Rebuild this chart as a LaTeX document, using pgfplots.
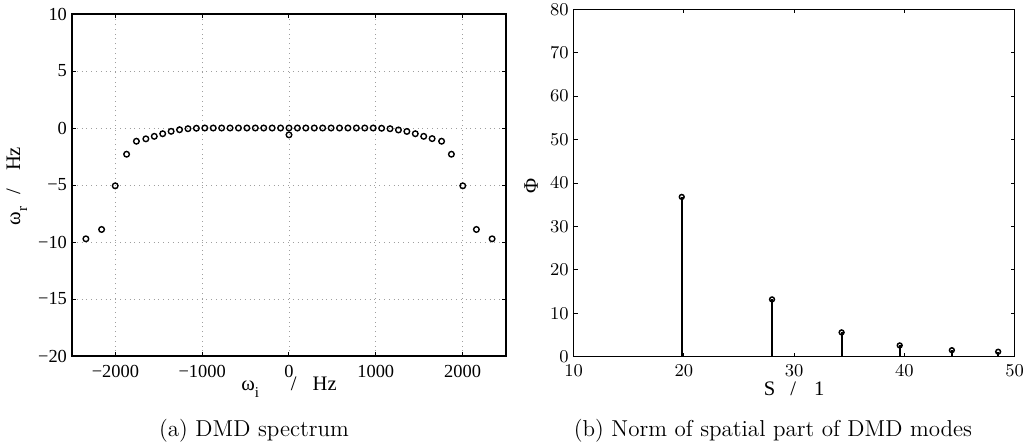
\documentclass[border=0pt]{standalone}
\usepackage{fontspec}
\newfontfamily\tnr{Liberation Serif}
\usepackage{pgfplots}
\pgfplotsset{compat=1.18}
\newcommand{\lsub}[1]{\raisebox{-3.5pt}{\fontsize{7.5}{8}\selectfont #1}}
\begin{document}
\begin{tikzpicture}
\path[use as bounding box] (0,0) rectangle (513.5pt,-223pt);
\begin{axis}[
  at={(36pt,-178pt)}, anchor=south west,
  scale only axis, width=217pt, height=171pt,
  xmin=-2500, xmax=2500, ymin=-20, ymax=10,
  xtick={-2000,-1000,0,1000,2000},
  xticklabels={−2000,−1000,0,1000,2000},
  ytick={-20,-15,-10,-5,0,5,10},
  yticklabels={−20,−15,−10,−5,0,5,10},
  tick pos=both, tick align=inside, major tick length=2pt,
  every tick/.style={black, line width=0.5pt},
  axis line style={line width=0.7pt},
  grid=major, grid style={dotted, gray!75, line width=0.45pt},
  ticklabel style={font=\tnr\fontsize{9.2}{10}\selectfont},
  xticklabel style={anchor=base, yshift=-10.8pt},
  yticklabel style={anchor=east, xshift=1pt},
  xlabel={ω\lsub{i}\hspace{16pt}/\hspace{8pt}Hz},
  ylabel={ω\lsub{r}\hspace{6pt}/\hspace{9pt}Hz},
  label style={font=\tnr\fontsize{10.3}{12}\selectfont},
  xlabel style={at={(axis description cs:0.5,0)}, anchor=base, yshift=-17pt},
  ylabel style={at={(axis description cs:-0.1198,0.497)}, anchor=base},
]
\addplot[only marks, mark=o, mark size=1.4pt, mark options={line width=0.7pt}, black] coordinates {
(-2340,-9.72)(-2159,-8.9)(-2002,-5.07)(-1871,-2.3)(-1758,-1.16)(-1649,-0.95)(-1552,-0.73)(-1455,-0.5)(-1358,-0.29)(-1261,-0.15)(-1164,-0.06)(-1067,-0.02)(-970,0)(-873,0)(-776,0)(-679,0)(-582,0)(-485,0)(-388,0)(-291,0)(-194,0)(-97,0)(0,0)(0,-0.6)
(97,0)(194,0)(291,0)(388,0)(485,0)(582,0)(679,0)(776,0)(873,0)(970,0)(1067,-0.02)(1164,-0.06)(1261,-0.17)(1358,-0.3)(1455,-0.5)(1552,-0.73)(1649,-0.93)(1758,-1.16)(1871,-2.3)(2002,-5.07)(2159,-8.9)(2340,-9.72)
};
\end{axis}
\begin{axis}[
  at={(286.85pt,-178.35pt)}, anchor=south west,
  scale only axis, width=220.5pt, height=173.7pt,
  xmin=10, xmax=50, ymin=0, ymax=80,
  xtick={10,20,30,40,50},
  ytick={0,10,20,30,40,50,60,70,80},
  tick pos=both, tick align=inside, major tick length=2pt,
  every tick/.style={black, line width=0.5pt},
  axis line style={line width=0.7pt},
  ticklabel style={font=\tnr\fontsize{9.2}{10}\selectfont},
  xticklabel style={anchor=base, yshift=-10pt},
  yticklabel style={anchor=east, xshift=1pt},
  xlabel={S\hspace{7.5pt}/\hspace{9pt}1},
  ylabel={Φ},
  label style={font=\tnr\fontsize{10.3}{12}\selectfont},
  xlabel style={at={(axis description cs:0.5,0)}, anchor=base, yshift=-19.2pt},
  ylabel style={at={(axis description cs:-0.081,0.491)}, anchor=base},
]
\addplot[ycomb, black, line width=1pt, mark=o, mark size=1.2pt, mark options={fill=white, line width=0.75pt}] coordinates {
(19.8,36.8)(27.99,13.2)(34.3,5.6)(39.57,2.6)(44.3,1.5)(48.5,1.15)
};
\end{axis}
\node[anchor=base, font=\fontsize{11.5}{13}\selectfont] at (127pt,-218pt) {(a) DMD spectrum};
\node[anchor=base, font=\fontsize{11.5}{13}\selectfont] at (386.5pt,-218pt) {(b) Norm of spatial part of DMD modes};
\end{tikzpicture}
\end{document}
